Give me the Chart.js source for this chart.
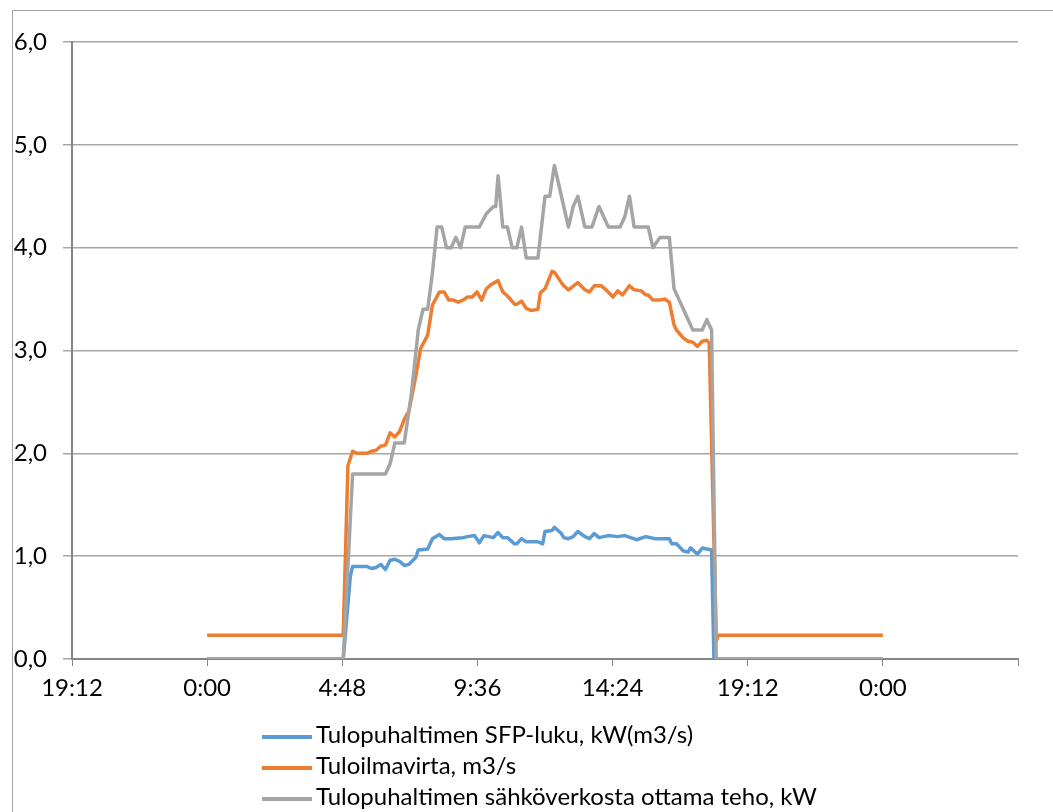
<!DOCTYPE html>
<html>
<head>
<meta charset="utf-8">
<script src="https://cdn.jsdelivr.net/npm/chart.js@4/dist/chart.umd.min.js"></script>
<style>
	html, body { margin: 0; padding: 0; background: #fff; overflow: hidden; }
	#frame { position: absolute; left: 12px; top: 10px; width: 1100px; height: 900px; border: 1px solid #a6a6a6; }
	#wrap { position: absolute; left: 0; top: 0; width: 1053px; height: 812px; }
	#legend { position: absolute; left: 262px; top: 718px; font-family: Lato, sans-serif; font-size: 24px; color: #000; }
	#legend div { height: 31px; line-height: 31px; white-space: nowrap; }
	#legend span { display: inline-block; width: 50px; height: 4px; vertical-align: middle; margin-right: 4px; }
</style>
</head>
<body>
<div id="frame"></div>
<div id="wrap"><canvas id="chart" width="1053" height="812"></canvas></div>
<div id="legend"></div>
<script>
// series labels
var seriesLabels = ['Tulopuhaltimen SFP-luku, kW(m3/s)', 'Tuloilmavirta, m3/s', 'Tulopuhaltimen sähköverkosta ottama teho, kW'];

// SFP-luku (blue)
var sfpTimes = ['0:00','4:50','5:05','5:10','5:40','5:50','6:00','6:10','6:20','6:30','6:40','6:50','7:00','7:10','7:25','7:30','7:50','8:00','8:15','8:25','8:40','9:05','9:15','9:30','9:40','9:50','10:10','10:20','10:30','10:40','10:55','11:00','11:10','11:20','11:45','11:55','12:00','12:15','12:20','12:35','12:40','12:50','13:00','13:10','13:25','13:35','13:45','13:55','14:15','14:35','14:50','15:15','15:35','15:55','16:25','16:30','16:40','16:55','17:05','17:10','17:25','17:35','17:55','18:00','24:00'];
var sfpValues = [0,0,0.8,0.9,0.9,0.88,0.89,0.92,0.87,0.96,0.97,0.95,0.91,0.92,0.99,1.06,1.07,1.17,1.21,1.17,1.17,1.18,1.19,1.2,1.13,1.2,1.18,1.23,1.18,1.18,1.12,1.12,1.17,1.14,1.14,1.12,1.24,1.25,1.28,1.22,1.18,1.17,1.19,1.24,1.19,1.17,1.22,1.18,1.2,1.19,1.2,1.16,1.19,1.17,1.17,1.12,1.12,1.05,1.04,1.08,1.02,1.08,1.06,0,0];

// Tuloilmavirta (orange)
var flowTimes = ['0:00','4:50','5:00','5:10','5:20','5:40','5:50','6:00','6:10','6:20','6:30','6:40','6:50','7:00','7:10','7:25','7:35','7:50','8:00','8:15','8:25','8:35','8:45','8:55','9:05','9:15','9:25','9:35','9:45','9:55','10:05','10:20','10:30','10:40','10:55','11:00','11:10','11:20','11:30','11:45','11:50','12:00','12:15','12:20','12:35','12:40','12:50','13:10','13:25','13:35','13:45','14:00','14:10','14:25','14:35','14:45','15:00','15:10','15:25','15:35','15:40','15:50','16:05','16:15','16:25','16:35','16:40','16:55','17:05','17:15','17:25','17:35','17:45','17:50','18:05','18:10','24:00'];
var flowValues = [0.23,0.23,1.88,2.02,2.0,2.0,2.02,2.03,2.07,2.08,2.2,2.16,2.21,2.33,2.41,2.76,3.02,3.15,3.44,3.57,3.57,3.49,3.49,3.47,3.49,3.52,3.52,3.57,3.49,3.6,3.64,3.68,3.57,3.53,3.45,3.45,3.48,3.41,3.39,3.4,3.56,3.6,3.77,3.76,3.66,3.63,3.59,3.66,3.59,3.57,3.63,3.63,3.59,3.52,3.58,3.54,3.63,3.59,3.58,3.54,3.54,3.49,3.49,3.5,3.47,3.25,3.2,3.12,3.09,3.08,3.04,3.09,3.1,3.07,0.18,0.23,0.23];

// teho (gray)
var powerTimes = ['0:00','4:50','5:10','6:20','6:30','6:40','7:00','7:15','7:30','7:40','7:50','8:00','8:10','8:20','8:30','8:40','8:50','9:00','9:10','9:40','9:55','10:10','10:15','10:20','10:30','10:40','10:50','11:00','11:10','11:20','11:45','12:00','12:10','12:20','12:35','12:40','12:50','13:00','13:10','13:25','13:40','13:55','14:15','14:40','14:50','15:00','15:10','15:40','15:50','16:05','16:25','16:35','17:15','17:35','17:45','17:55','18:05','24:00'];
var powerValues = [0,0,1.8,1.8,1.9,2.1,2.1,2.57,3.2,3.4,3.4,3.75,4.2,4.2,4.0,4.0,4.1,4.0,4.2,4.2,4.33,4.4,4.4,4.7,4.2,4.2,4.0,4.0,4.2,3.9,3.9,4.5,4.5,4.8,4.5,4.4,4.2,4.4,4.5,4.2,4.2,4.4,4.2,4.2,4.3,4.5,4.2,4.2,4.0,4.1,4.1,3.6,3.2,3.2,3.3,3.2,0,0];

var seriesColors = ['#5B9BD5', '#ED7D31', '#A5A5A5'];

// x axis in minutes from midnight, ticks every 4:48
var xMin = -288;
var xMax = 1728;
var xStep = 288;
var yMax = 6;

var _toMinutes = function(str) {
	var parts = str.split(':');
	return parseInt(parts[0], 10) * 60 + parseInt(parts[1], 10);
};

var _points = function(times, values) {
	var out = [];
	for (var i = 0; i < times.length; i++) {
		out.push({ x: _toMinutes(times[i]), y: values[i] });
	}
	return out;
};

var _fmtTime = function(min) {
	var m = ((Math.round(min) % 1440) + 1440) % 1440;
	var h = Math.floor(m / 60);
	var mm = String(m % 60).padStart(2, '0');
	return h + ':' + mm;
};

var _dataset = function(idx, times, values, order) {
	return {
		label: seriesLabels[idx],
		data: _points(times, values),
		borderColor: seriesColors[idx],
		backgroundColor: seriesColors[idx],
		borderWidth: 3.5,
		pointRadius: 0,
		tension: 0,
		borderJoinStyle: 'round',
		borderCapStyle: 'butt',
		order: order
	};
};

var font = { family: 'Lato, sans-serif', size: 24 };

var chart = new Chart(document.getElementById('chart'), {
	type: 'line',
	data: {
		datasets: [
			_dataset(0, sfpTimes, sfpValues, 2),
			_dataset(1, flowTimes, flowValues, 1),
			_dataset(2, powerTimes, powerValues, 0)
		]
	},
	options: {
		responsive: false,
		animation: false,
		layout: { padding: { top: 42, right: 35, bottom: 103, left: 0 } },
		plugins: { legend: { display: false }, tooltip: { enabled: false } },
		scales: {
			x: {
				type: 'linear',
				min: xMin,
				max: xMax,
				afterFit: function(scale) { scale.height = 50; },
				afterBuildTicks: function(scale) {
					var t = [];
					for (var v = xMin; v <= xMax; v += xStep) t.push({ value: v });
					scale.ticks = t;
				},
				ticks: {
					font: font,
					color: '#000',
					padding: 8,
					maxRotation: 0,
					autoSkip: false,
					callback: function(value) {
						if (value >= xMax) return '';
						return _fmtTime(value);
					}
				},
				grid: { drawOnChartArea: false, drawTicks: true, tickLength: 7, color: '#868686', lineWidth: 1 },
				border: { color: '#868686', width: 2 }
			},
			y: {
				min: 0,
				max: yMax,
				afterFit: function(scale) { scale.width = 72; },
				ticks: {
					stepSize: 1,
					font: font,
					color: '#000',
					padding: 16,
					callback: function(value) { return value.toFixed(1).replace('.', ','); }
				},
				grid: { color: '#a6a6a6', lineWidth: 1.5, tickLength: 9 },
				border: { color: '#868686', width: 2 }
			}
		}
	}
});

// legend in a column, like the original
var legendBox = document.getElementById('legend');
for (var i = 0; i < seriesLabels.length; i++) {
	var row = document.createElement('div');
	row.innerHTML = '<span style="background:' + seriesColors[i] + '"></span>' + seriesLabels[i];
	legendBox.appendChild(row);
}
</script>
</body>
</html>
